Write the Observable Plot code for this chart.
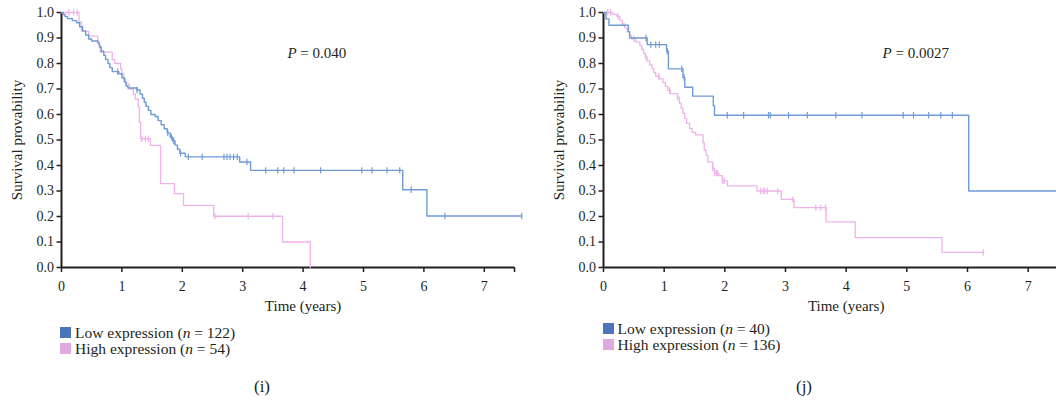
<!DOCTYPE html>
<html><head><meta charset="utf-8">
<script src="https://cdn.jsdelivr.net/npm/d3@7"></script>
<script src="https://cdn.jsdelivr.net/npm/@observablehq/plot@0.6"></script>
<style>
body{margin:0;background:#fff;width:1056px;height:402px;overflow:hidden;font-family:"Liberation Serif",serif;color:#231f20;}
#root{position:relative;width:1056px;height:402px;overflow:hidden}
.panel{position:absolute;top:0;height:402px;}
.legend{position:absolute;font-size:15.5px;line-height:16px;}
.legend .row{display:flex;align-items:center;white-space:nowrap;height:16px}
.sw{width:11px;height:11px;margin-right:4px;display:inline-block}
.cap{position:absolute;font-size:17px;transform:translate(-50%,-50%);white-space:nowrap}
</style></head><body>
<div id="root"></div>
<script>
// ---------- Panel (i) ----------
const iLowT = [0.03,0.06,0.10,0.18,0.25,0.30,0.35,0.40,0.45,0.50,0.60,0.63,0.66,0.70,0.73,0.77,0.80,0.84,0.95,1.00,1.04,1.07,1.10,1.25,1.30,1.34,1.37,1.40,1.44,1.48,1.55,1.60,1.65,1.70,1.75,1.80,1.84,1.88,1.92,1.96,2.05,2.95,3.13,5.65,6.05];
const iLowS = [0.992,0.984,0.976,0.968,0.96,0.944,0.928,0.912,0.896,0.888,0.88,0.864,0.848,0.832,0.816,0.80,0.784,0.768,0.76,0.744,0.728,0.712,0.704,0.696,0.68,0.664,0.648,0.632,0.616,0.60,0.592,0.576,0.56,0.544,0.528,0.512,0.496,0.48,0.464,0.448,0.434,0.414,0.381,0.305,0.202];
const iLowCensor = [0.93,1.25,1.76,1.82,1.86,1.97,2.10,2.33,2.69,2.74,2.79,2.85,2.91,3.07,3.38,3.58,3.68,3.85,4.29,4.97,5.14,5.39,5.60,5.79,6.35,7.62];
const iLowEnd = 7.62;
const iHighT = [0.29,0.33,0.45,0.60,0.62,0.64,0.84,0.88,0.98,1.00,1.03,1.06,1.12,1.19,1.22,1.27,1.29,1.31,1.47,1.64,1.87,2.02,2.52,3.66,4.12];
const iHighS = [0.963,0.926,0.907,0.889,0.87,0.845,0.815,0.80,0.778,0.76,0.74,0.72,0.70,0.68,0.66,0.63,0.57,0.505,0.479,0.329,0.29,0.244,0.201,0.10,0.0];
const iHighCensor = [0.12,0.20,0.26,1.33,1.39,1.44,2.54,3.09,3.50];
const iHighEnd = 4.12;
const iPText = "P = 0.040", iPAt = [3.74, 0.84];
const iLegend = ["Low expression (n = 122)", "High expression (n = 54)"];
const iCaption = "(i)";

// ---------- Panel (j) ----------
const jLowT = [0.04,0.09,0.41,0.43,0.72,1.04,1.07,1.31,1.34,1.47,1.81,1.83,6.02];
const jLowS = [0.975,0.95,0.925,0.90,0.874,0.848,0.779,0.745,0.707,0.672,0.635,0.597,0.30];
const jLowCensor = [0.70,0.78,0.86,0.92,1.05,1.29,1.33,2.04,2.31,2.72,2.75,3.05,3.36,3.83,4.26,4.94,5.11,5.36,5.56,5.75];
const jLowEnd = 7.6;
const jHighT = [0.15,0.22,0.27,0.31,0.35,0.39,0.43,0.46,0.53,0.60,0.63,0.66,0.69,0.72,0.76,0.80,0.83,0.86,0.92,0.98,1.02,1.06,1.10,1.22,1.25,1.28,1.31,1.34,1.37,1.42,1.46,1.52,1.64,1.66,1.69,1.72,1.80,1.83,1.90,1.96,2.04,2.53,2.93,3.14,3.67,4.15,5.58];
const jHighS = [0.993,0.985,0.97,0.955,0.94,0.925,0.91,0.897,0.884,0.87,0.855,0.84,0.825,0.81,0.795,0.78,0.765,0.75,0.74,0.725,0.71,0.695,0.682,0.668,0.645,0.625,0.605,0.585,0.565,0.545,0.53,0.52,0.49,0.46,0.44,0.414,0.39,0.37,0.36,0.34,0.32,0.30,0.267,0.235,0.179,0.117,0.059];
const jHighCensor = [0.07,0.12,0.24,0.50,0.70,0.91,1.09,1.22,1.80,1.83,1.86,1.88,1.96,1.99,2.59,2.63,2.66,2.70,2.87,3.12,3.50,3.58,3.66,6.26];
const jHighEnd = 6.26;
const jPText = "P = 0.0027", jPAt = [4.6, 0.84];
const jLegend = ["Low expression (n = 40)", "High expression (n = 136)"];
const jCaption = "(j)";

// ---------- shared ----------
const yTicks = [0,0.1,0.2,0.3,0.4,0.5,0.6,0.7,0.8,0.9,1.0];
const xTickValues = [0,1,2,3,4,5,6,7];
const xLabel = "Time (years)", xLabelAt = 4;
const yLabel = "Survival provability";
const lowLine = "#6f9bd7", highLine = "#efb2ea";
const lowSwatch = "#4a75b8", highSwatch = "#e0aae0";

const vbar = {draw(ctx, size){ const h = Math.sqrt(size); ctx.moveTo(0,-h); ctx.lineTo(0,h); }};

function steps(T, S, end){
  const pts = [{t:0, s:1}];
  T.forEach((t,i)=>pts.push({t, s:S[i]}));
  pts.push({t:end, s:S[S.length-1]});
  return pts;
}
function survAt(T,S,t){ let s=1; T.forEach((tt,i)=>{ if(tt<=t) s=S[i]; }); return s; }
function censors(T,S,C){ return C.map(t=>({t, s:survAt(T,S,t)})); }

function panel(o){
  const div = document.createElement("div");
  div.className = "panel";
  div.style.left = o.left + "px";
  div.style.width = o.width + "px";
  const extraTicks = o.endTick ? [...xTickValues, 7.5] : xTickValues;
  const svg = Plot.plot({
    width: o.width, height: 320,
    marginLeft: o.marginLeft, marginRight: o.marginRight, marginTop: 12, marginBottom: 53,
    style: {fontFamily: "Liberation Serif, serif", fontSize: "14px", color: "#231f20", background: "transparent", overflow: "visible"},
    x: {domain: [0, 7.5]},
    y: {domain: [0, 1]},
    marks: [
      Plot.axisY({ticks: yTicks, tickFormat: d3.format(".1f"), tickSize: 4.5, tickPadding: 3, label: null, strokeWidth: 1.5, fontSize: 14}),
      Plot.axisX({ticks: extraTicks, tickFormat: d => d === 7.5 ? "" : d, tickSize: 5, tickPadding: 9, label: null, strokeWidth: 1.5, fontSize: 14}),
      Plot.ruleX([0], {stroke: "#231f20", strokeWidth: 2}),
      Plot.ruleY([0], {stroke: "#231f20", strokeWidth: 2}),
      Plot.line(steps(o.highT, o.highS, o.highEnd), {x: "t", y: "s", curve: "step-after", stroke: highLine, strokeWidth: 1.3}),
      Plot.dot(censors(o.highT, o.highS, o.highC), {x: "t", y: "s", symbol: vbar, r: 1.8, stroke: highLine, strokeWidth: 1.2, fill: "none"}),
      Plot.line(steps(o.lowT, o.lowS, o.lowEnd), {x: "t", y: "s", curve: "step-after", stroke: lowLine, strokeWidth: 1.4}),
      Plot.dot(censors(o.lowT, o.lowS, o.lowC), {x: "t", y: "s", symbol: vbar, r: 1.8, stroke: lowLine, strokeWidth: 1.2, fill: "none"}),
      Plot.text([{x: o.pAt[0], y: o.pAt[1]}], {x: "x", y: "y", text: () => o.pText, textAnchor: "start", lineAnchor: "middle", fontSize: 15, fill: "#231f20"}),
      Plot.text([{t: xLabelAt}], {x: "t", frameAnchor: "bottom", text: () => xLabel, lineAnchor: "middle", dy: 39, fontSize: 15, fill: "#231f20"}),
      Plot.text([yLabel], {frameAnchor: "left", rotate: -90, dx: -44, text: d => d, textAnchor: "middle", lineAnchor: "middle", fontSize: 15, fill: "#231f20"})
    ]
  });
  // italic P
  svg.querySelectorAll("text").forEach(t => {
    if (t.textContent === o.pText) {
      const rest = o.pText.slice(1);
      t.textContent = "";
      const a = document.createElementNS("http://www.w3.org/2000/svg","tspan");
      a.setAttribute("font-style","italic"); a.textContent = "P";
      t.appendChild(a);
      t.appendChild(document.createTextNode(rest));
    }
  });
  svg.style.position = "absolute"; svg.style.left = "0px"; svg.style.top = "0px";
  div.appendChild(svg);

  const leg = document.createElement("div");
  leg.className = "legend";
  leg.style.left = o.legendLeft + "px"; leg.style.top = o.legendTop + "px";
  [[o.legend[0], lowSwatch],[o.legend[1], highSwatch]].forEach(([txt,col])=>{
    const r = document.createElement("div"); r.className = "row";
    const m = txt.match(/^(.*\()n( = .*)$/);
    r.innerHTML = `<span class="sw" style="background:${col}"></span><span>${m[1]}<i>n</i>${m[2]}</span>`;
    leg.appendChild(r);
  });
  div.appendChild(leg);

  const cap = document.createElement("div");
  cap.className = "cap"; cap.textContent = o.caption;
  cap.style.left = o.capX + "px"; cap.style.top = "386.5px";
  div.appendChild(cap);
  document.getElementById("root").appendChild(div);
}

panel({left: 0, width: 528, marginLeft: 61, marginRight: 14, endTick: true,
  lowT: iLowT, lowS: iLowS, lowC: iLowCensor, lowEnd: iLowEnd,
  highT: iHighT, highS: iHighS, highC: iHighCensor, highEnd: iHighEnd,
  pText: iPText, pAt: iPAt, legend: iLegend, caption: iCaption,
  legendLeft: 60, legendTop: 324.5, capX: 262});
panel({left: 528, width: 530, marginLeft: 75, marginRight: 0, endTick: false,
  lowT: jLowT, lowS: jLowS, lowC: jLowCensor, lowEnd: jLowEnd,
  highT: jHighT, highS: jHighS, highC: jHighCensor, highEnd: jHighEnd,
  pText: jPText, pAt: jPAt, legend: jLegend, caption: jCaption,
  legendLeft: 74.5, legendTop: 320.5, capX: 276});
</script>
</body></html>
